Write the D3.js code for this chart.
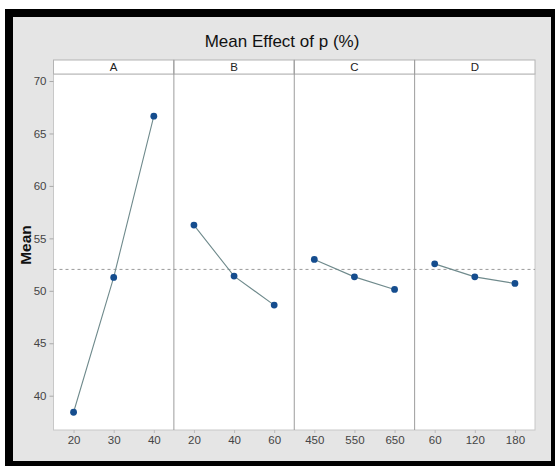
<!DOCTYPE html>
<html>
<head>
<meta charset="utf-8">
<script src="https://cdn.jsdelivr.net/npm/d3@7/dist/d3.min.js"></script>
<style>
  html, body { margin: 0; padding: 0; background: #fff; }
  svg { display: block; font-family: "Liberation Sans", Arial, sans-serif; }
</style>
</head>
<body>
<svg id="chart" width="555" height="466"></svg>
<script>
// Factors and their levels
const factors = ["A", "B", "C", "D"];
const levelsA = ["20", "30", "40"];
const levelsB = ["20", "40", "60"];
const levelsC = ["450", "550", "650"];
const levelsD = ["60", "120", "180"];
// Mean response at each level
const meansA = [38.42, 51.28, 66.65];
const meansB = [56.27, 51.40, 48.64];
const meansC = [52.99, 51.33, 50.13];
const meansD = [52.57, 51.33, 50.70];
const grandMean = 52.04;
const yTicks = [40, 45, 50, 55, 60, 65, 70];

const levels = [levelsA, levelsB, levelsC, levelsD];
const means = [meansA, meansB, meansC, meansD];

const svg = d3.select("#chart");
const W = 555, H = 466;

// frame
svg.append("rect").attr("x", 5).attr("y", 9).attr("width", W - 5).attr("height", H - 9).attr("fill", "#000");
svg.append("rect").attr("x", 13).attr("y", 17).attr("width", 538).attr("height", 444).attr("fill", "#e5e5e5");

const plot = { left: 53.5, right: 535, top: 74, bottom: 430, stripTop: 60 };
const panelW = (plot.right - plot.left) / factors.length;

const y = d3.scaleLinear().domain([36.73, 70.67]).range([plot.bottom, plot.top]);
const panelX = d3.scaleBand().domain(factors).range([plot.left, plot.right]).paddingInner(0).paddingOuter(0);

// title
svg.append("text").attr("x", 282).attr("y", 47).attr("text-anchor", "middle")
  .attr("font-size", 17).attr("fill", "#111").text("Mean Effect of p (%)");

// plot background
svg.append("rect").attr("x", plot.left).attr("y", plot.top).attr("width", plot.right - plot.left)
  .attr("height", plot.bottom - plot.top).attr("fill", "#fff").attr("stroke", "#c8c8c8").attr("stroke-width", 1);

// y axis
const yAxis = d3.axisLeft(y).tickValues(yTicks).tickSize(4).tickPadding(3).tickFormat(d3.format("d"));
const yg = svg.append("g").attr("transform", `translate(${plot.left},0)`).call(yAxis);
yg.select(".domain").remove();
yg.selectAll("line").attr("stroke", "#aaa");
yg.selectAll("text").attr("font-size", 11.5).attr("fill", "#444");

svg.append("text").attr("transform", "translate(31,245) rotate(-90)").attr("text-anchor", "middle")
  .attr("font-size", 15.5).attr("font-weight", "bold").attr("fill", "#111").text("Mean");

// grand mean reference
svg.append("line").attr("x1", plot.left).attr("x2", plot.right)
  .attr("y1", y(grandMean)).attr("y2", y(grandMean))
  .attr("stroke", "#9a9a9a").attr("stroke-width", 1).attr("stroke-dasharray", "3,3");

factors.forEach((f, i) => {
  const x0 = panelX(f);
  const x = d3.scalePoint().domain(levels[i]).range([x0, x0 + panelW]).padding(0.5);
  const g = svg.append("g");

  // strip
  g.append("rect").attr("x", x0).attr("y", plot.stripTop).attr("width", panelW)
    .attr("height", plot.top - plot.stripTop).attr("fill", "#fff").attr("stroke", "#b4b4b4");
  g.append("text").attr("x", x0 + panelW / 2).attr("y", plot.stripTop + 11).attr("text-anchor", "middle")
    .attr("font-size", 11.5).attr("fill", "#222").text(f);

  // divider
  if (i > 0) {
    g.append("line").attr("x1", x0).attr("x2", x0).attr("y1", plot.stripTop).attr("y2", plot.bottom)
      .attr("stroke", "#9c9c9c").attr("stroke-width", 1);
  }

  // x axis
  const xAxis = d3.axisBottom(x).tickSize(3).tickPadding(3);
  const xg = g.append("g").attr("transform", `translate(0,${plot.bottom})`).call(xAxis);
  xg.select(".domain").remove();
  xg.selectAll("line").attr("stroke", "#bbb");
  xg.selectAll("text").attr("font-size", 11.5).attr("fill", "#444");

  const pts = levels[i].map((l, j) => ({ l, v: means[i][j] }));
  g.append("path").datum(pts)
    .attr("d", d3.line().x(d => x(d.l)).y(d => y(d.v)))
    .attr("fill", "none").attr("stroke", "#6f8a8c").attr("stroke-width", 1.1);
  g.selectAll("circle").data(pts).join("circle")
    .attr("cx", d => x(d.l)).attr("cy", d => y(d.v)).attr("r", 3.4).attr("fill", "#154d8e");
});
</script>
</body>
</html>
